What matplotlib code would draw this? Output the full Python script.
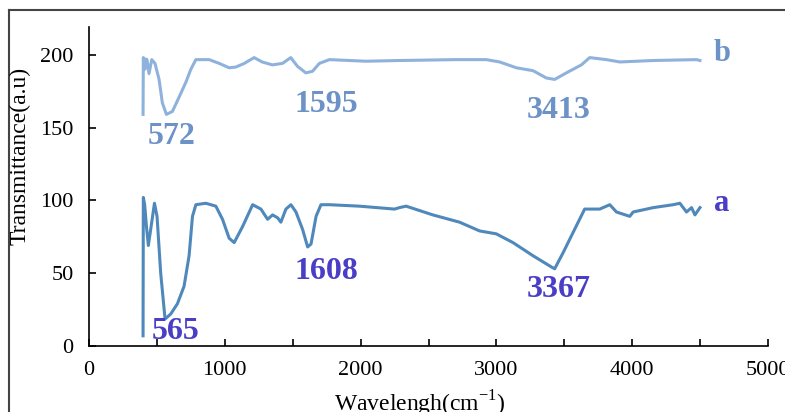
import matplotlib.pyplot as plt
from matplotlib.ticker import MultipleLocator
from matplotlib.lines import Line2D

plt.rcParams['font.family'] = 'Liberation Serif'
plt.rcParams['mathtext.fontset'] = 'custom'
plt.rcParams['mathtext.rm'] = 'Liberation Serif'

# spectrum a (lower curve)
wn_a = [398, 400, 410, 423, 437, 462, 482, 501, 528, 560, 602, 651, 700, 737, 762,
        787, 860, 934, 983, 1032, 1069, 1131, 1205, 1266, 1315, 1352, 1389, 1413,
        1450, 1487, 1524, 1573, 1610, 1635, 1672, 1708, 1770, 1991, 2250, 2286,
        2335, 2532, 2729, 2876, 2999, 3122, 3269, 3392, 3429, 3491, 3565, 3650,
        3761, 3835, 3884, 3982, 4007, 4155, 4302, 4351, 4400, 4437, 4462, 4499]
tr_a = [7, 102, 97, 82, 69, 85, 98, 89, 50, 18.5, 22, 29, 41, 62, 89,
        97, 98, 96, 87, 74, 71, 82, 97, 94, 87, 90, 88, 85,
        94, 97, 92, 80, 68, 70, 89, 97, 97, 96, 94, 95,
        96, 90, 85, 79, 77, 71, 62, 55, 53, 64, 78, 94,
        94, 97, 92, 89, 92, 95, 97, 98, 92, 95, 90, 95]

# spectrum b (upper curve)
wn_b = [398, 400, 412, 420, 427, 442, 462, 486, 516, 540, 570, 614, 664, 713, 750,
        787, 885, 959, 1032, 1081, 1143, 1216, 1275, 1350, 1424, 1486, 1535, 1597,
        1646, 1696, 1770, 2040, 2286, 2704, 2925, 3024, 3147, 3270, 3368, 3429,
        3515, 3626, 3687, 3810, 3909, 4155, 4474, 4499]
tr_b = [159, 198, 190, 197, 196.6, 187, 196.6, 194, 183, 167, 159, 161, 171, 181, 190,
        196.6, 196.6, 194, 191, 191.5, 194, 198, 195, 193, 194, 198, 192, 187.5,
        188.6, 194, 196.6, 195.5, 196, 196.6, 196.6, 195, 191, 189, 184, 183,
        187.5, 193, 198, 196.6, 195, 196, 196.6, 196]

peaks_a = ['565', '1608', '3367']
peaks_a_pos = [(634, 10), (1748, 51), (3459, 39)]
peaks_b = ['572', '1595', '3413']
peaks_b_pos = [(612, 144), (1748, 166), (3459, 162)]

col_a = '#4f88bb'
col_b = '#8fb2dd'
txt_a = '#4a3ec6'
txt_b = '#6d92c8'

fig = plt.figure(figsize=(7.85, 4.12), dpi=100)
ax = fig.add_axes([89 / 785, 66 / 412, 679 / 785, 319 / 412])

ax.plot(wn_a, tr_a, color=col_a, lw=2.2)
ax.plot(wn_b, tr_b, color=col_b, lw=2.2)

for t, (x, y) in zip(peaks_a, peaks_a_pos):
    ax.text(x, y, t, color=txt_a, fontsize=23, fontweight='bold', ha='center', va='center')
for t, (x, y) in zip(peaks_b, peaks_b_pos):
    ax.text(x, y, t, color=txt_b, fontsize=23, fontweight='bold', ha='center', va='center')
ax.text(4600, 98, 'a', color=txt_a, fontsize=22, fontweight='bold', ha='left', va='center')
ax.text(4600, 201, 'b', color=txt_b, fontsize=22, fontweight='bold', ha='left', va='center')

ax.set_xlim(0, 5000)
ax.set_ylim(0, 219)
ax.xaxis.set_major_locator(MultipleLocator(1000))
ax.xaxis.set_minor_locator(MultipleLocator(500))
ax.set_yticks([0, 50, 100, 150, 200])
ax.tick_params(which='both', direction='in', length=5, width=1.2, labelsize=16, pad=11)
ax.spines['top'].set_visible(False)
ax.spines['right'].set_visible(False)
ax.spines['left'].set_linewidth(1.2)
ax.spines['bottom'].set_linewidth(1.2)

fig.text(20 / 785, 1 - 156 / 412, 'Transmittance(a.u)', rotation=90, fontsize=17,
         ha='center', va='center')
fig.text(420 / 785, 1 - 404 / 412, 'Wavelengh(cm$^{-1}$)', fontsize=17,
         ha='center', va='center')

# outer frame (cut at right and bottom)
fig.add_artist(Line2D([9 / 785, 1], [1 - 10 / 412, 1 - 10 / 412], color='#444444', lw=1.5))
fig.add_artist(Line2D([9 / 785, 9 / 785], [0, 1 - 10 / 412], color='#444444', lw=1.5))

fig.savefig('out.png', dpi=100)
